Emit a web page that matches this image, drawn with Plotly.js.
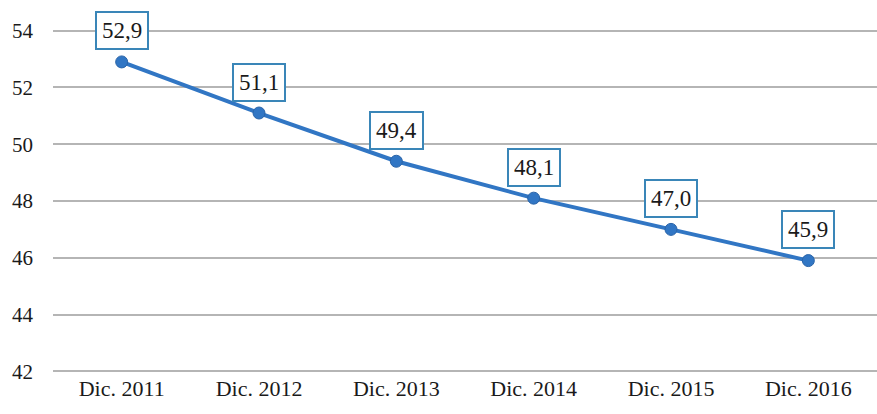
<!DOCTYPE html>
<html><head><meta charset="utf-8">
<script src="https://cdn.plot.ly/plotly-3.0.1.min.js"></script>
<style>body{margin:0;background:#fff}#c{width:877px;height:414px}</style>
</head><body><div id="c"></div>
<script>
const categories = ["Dic. 2011","Dic. 2012","Dic. 2013","Dic. 2014","Dic. 2015","Dic. 2016"];
const values = [52.9, 51.1, 49.4, 48.1, 47.0, 45.9];
const valueLabels = ["52,9","51,1","49,4","48,1","47,0","45,9"];
const yTicks = [42, 44, 46, 48, 50, 52, 54];

const serif = "Liberation Serif";
const blue = "#3176c4";

const trace = {
  x: categories, y: values, type: "scatter", mode: "lines+markers",
  line: {color: blue, width: 4},
  marker: {color: blue, size: 12, line: {color: "#2a64a8", width: 1}},
  hoverinfo: "skip"
};

const annotations = categories.map((c, i) => ({
  x: c, y: values[i], xref: "x", yref: "y",
  text: valueLabels[i], showarrow: false, yshift: 31,
  font: {family: serif, size: 23, color: "#1a1a1a"},
  bgcolor: "#ffffff", bordercolor: "#3a86b8", borderwidth: 2, borderpad: 5
}));

const layout = {
  width: 877, height: 414,
  margin: {l: 53, r: 0, t: 29, b: 41},
  paper_bgcolor: "#fff", plot_bgcolor: "#fff",
  showlegend: false,
  font: {family: serif},
  xaxis: {type: "category", range: [-0.5, 5.5], showgrid: false, zeroline: false,
    showline: false, ticks: "", tickfont: {family: serif, size: 22, color: "#1a1a1a"}},
  yaxis: {range: [41.94, 54.06], tickvals: yTicks, ticktext: yTicks.map(String),
    showgrid: true, gridcolor: "#b5b5b5", gridwidth: 2, zeroline: false, showline: false,
    ticks: "", ticklabelstandoff: 19, tickfont: {family: serif, size: 21, color: "#1a1a1a"}},
  annotations: annotations
};
Plotly.newPlot("c", [trace], layout, {staticPlot: true, displayModeBar: false});
</script>
</body></html>
